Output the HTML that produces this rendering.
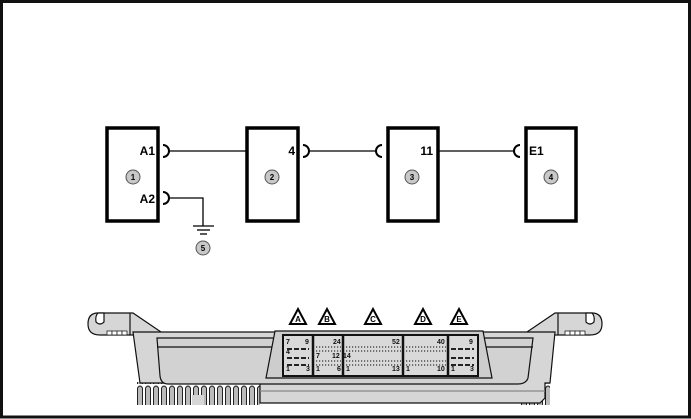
<!DOCTYPE html>
<html><head><style>
html,body{margin:0;padding:0;background:#fff;}
svg{display:block;}
text{font-family:"Liberation Sans",sans-serif;}
</style></head><body>
<svg width="691" height="419" viewBox="0 0 691 419" xmlns="http://www.w3.org/2000/svg">
<defs><pattern id="fins" x="136" width="8" height="24" patternUnits="userSpaceOnUse"><rect width="8" height="24" fill="#fff"/><path d="M1.5,24 L1.5,4 Q4,0 6.5,4 L6.5,24" fill="#bbb" stroke="#222" stroke-width="1"/></pattern></defs>
<rect x="1.5" y="1.5" width="688" height="415.5" fill="#fff" stroke="#111" stroke-width="3"/>
<g fill="none" stroke="#000">
<rect x="107" y="128" width="51" height="93" stroke-width="3.5"/>
<rect x="247" y="128" width="51" height="93" stroke-width="3.5"/>
<rect x="388" y="128" width="50" height="93" stroke-width="3.5"/>
<rect x="526" y="128" width="50" height="93" stroke-width="3.5"/>
<g stroke-width="1.3">
<line x1="168" y1="151" x2="247" y2="151"/>
<line x1="308" y1="151" x2="376" y2="151"/>
<line x1="438" y1="151" x2="515" y2="151"/>
<polyline points="168,198 203,198 203,226"/>
<line x1="193" y1="226" x2="214" y2="226"/>
<line x1="197" y1="230" x2="210" y2="230"/>
<line x1="200" y1="234" x2="207" y2="234"/>
</g>
<g stroke-width="2">
<path d="M163,145 A6,6 0 0 1 163,157"/>
<path d="M163,192 A6,6 0 0 1 163,204"/>
<path d="M303,145 A6,6 0 0 1 303,157"/>
<path d="M382,145 A6,6 0 0 0 382,157"/>
<path d="M520,145 A6,6 0 0 0 520,157"/>
</g>
</g>
<g font-weight="bold" font-size="12" fill="#000">
<text x="155" y="155" text-anchor="end">A1</text>
<text x="155" y="203" text-anchor="end">A2</text>
<text x="295" y="155" text-anchor="end">4</text>
<text x="433" y="155" text-anchor="end">11</text>
<text x="529" y="155">E1</text>
</g>
<g fill="#c8c8c8" stroke="#555" stroke-width="1">
<circle cx="133" cy="177" r="7"/><circle cx="272" cy="177" r="7"/><circle cx="412" cy="177" r="7"/><circle cx="551" cy="177" r="7"/><circle cx="203" cy="248" r="7"/>
</g>
<g font-size="8" font-weight="bold" text-anchor="middle" fill="#000">
<text x="133" y="180">1</text><text x="272" y="180">2</text><text x="412" y="180">3</text><text x="551" y="180">4</text><text x="203" y="251">5</text>
</g>
<!-- ECU -->
<rect x="136" y="382" width="124" height="23" fill="url(#fins)"/>
<rect x="192" y="395" width="12" height="10" fill="#d6d6d6"/>
<rect x="520" y="382" width="30" height="23" fill="url(#fins)"/>
<g stroke="#111" stroke-width="1.2" fill="#d6d6d6">
<!-- left hook arm -->
<path d="M161,332 L133,313 L98,313 Q88,313 88,324 Q88,335 100,335 L133,335 Z"/>
<path d="M104,313 L104,322 Q100,326 96,322 Q95,316 98,313 Z" fill="#fff"/>
<!-- right hook arm -->
<path d="M527,332 L555,313 L592,313 Q602,313 602,324 Q602,335 590,335 L555,335 Z"/>
<path d="M586,313 L586,322 Q590,326 594,322 Q595,316 592,313 Z" fill="#fff"/>
<!-- main body -->
<path d="M133,332 L555,332 L550,383 L545,383 L545,398 L540,403 L260,403 L260,383 L140,383 Z"/>
<path d="M157,338 L533,338 L528,378 Q526,384 518,384 L168,384 Q161,384 160,376 Z" fill="#d2d2d2"/>
<line x1="157" y1="347" x2="275" y2="347" fill="none"/>
<line x1="483" y1="347" x2="533" y2="347" fill="none"/>
<line x1="260" y1="391" x2="545" y2="391" fill="none" stroke="#888"/>
<line x1="130" y1="313" x2="130" y2="335" fill="none"/>
<line x1="558" y1="313" x2="558" y2="335" fill="none"/>
<path d="M275,331 L483,331 L492,378 L266,378 Z" fill="#cdcdcd"/>
<rect x="283" y="335" width="195" height="41" fill="#d9d9d9" stroke-width="2"/>
<g stroke-width="2.5"><line x1="313" y1="335" x2="313" y2="376"/><line x1="343" y1="335" x2="343" y2="376"/><line x1="403" y1="335" x2="403" y2="376"/><line x1="448" y1="335" x2="448" y2="376"/></g>
</g>
<g fill="#fff" stroke="#222" stroke-width="0.8">
<rect x="107" y="331" width="5" height="4"/><rect x="112" y="331" width="5" height="4"/><rect x="117" y="331" width="5" height="4"/><rect x="122" y="331" width="5" height="4"/>
<rect x="565" y="331" width="5" height="4"/><rect x="570" y="331" width="5" height="4"/><rect x="575" y="331" width="5" height="4"/><rect x="580" y="331" width="5" height="4"/>
</g>
<g font-size="7" font-weight="bold" fill="#111">
<text x="286" y="344">7</text><text x="305" y="344">9</text><text x="286" y="354">4</text><text x="286" y="371">1</text><text x="306" y="371">3</text>
<text x="333" y="344">24</text><text x="316" y="358">7</text><text x="332" y="358">12</text><text x="316" y="371">1</text><text x="337" y="371">6</text>
<text x="343" y="358">14</text><text x="392" y="344">52</text><text x="346" y="371">1</text><text x="392" y="371">13</text>
<text x="437" y="344">40</text><text x="406" y="371">1</text><text x="437" y="371">10</text>
<text x="469" y="344">9</text><text x="451" y="371">1</text><text x="470" y="371">3</text>
</g>
<g stroke="#222" stroke-width="2" stroke-dasharray="5,2">
<line x1="287" y1="349" x2="309" y2="349"/><line x1="287" y1="358" x2="309" y2="358"/><line x1="287" y1="365" x2="309" y2="365"/>
<line x1="451" y1="349" x2="474" y2="349"/><line x1="451" y1="358" x2="474" y2="358"/><line x1="451" y1="365" x2="474" y2="365"/>
</g>
<g stroke="#333" stroke-width="1.3" stroke-dasharray="1.2,1.8">
<line x1="316" y1="347" x2="341" y2="347"/><line x1="316" y1="351" x2="341" y2="351"/><line x1="316" y1="361" x2="341" y2="361"/><line x1="316" y1="365" x2="341" y2="365"/>
<line x1="346" y1="347" x2="401" y2="347"/><line x1="346" y1="351" x2="401" y2="351"/><line x1="346" y1="361" x2="401" y2="361"/><line x1="346" y1="365" x2="401" y2="365"/>
<line x1="406" y1="347" x2="446" y2="347"/><line x1="406" y1="351" x2="446" y2="351"/><line x1="406" y1="361" x2="446" y2="361"/><line x1="406" y1="365" x2="446" y2="365"/>
</g>
<g fill="#fff" stroke="#000" stroke-width="2">
<polygon points="298,309 306,324 290,324"/><polygon points="327,309 335,324 319,324"/><polygon points="373,309 381,324 365,324"/><polygon points="423,309 431,324 415,324"/><polygon points="459,309 467,324 451,324"/>
</g>
<g font-size="8" font-weight="bold" text-anchor="middle" fill="#000">
<text x="298" y="322">A</text><text x="327" y="322">B</text><text x="373" y="322">C</text><text x="423" y="322">D</text><text x="459" y="322">E</text>
</g>
</svg>
</body></html>
